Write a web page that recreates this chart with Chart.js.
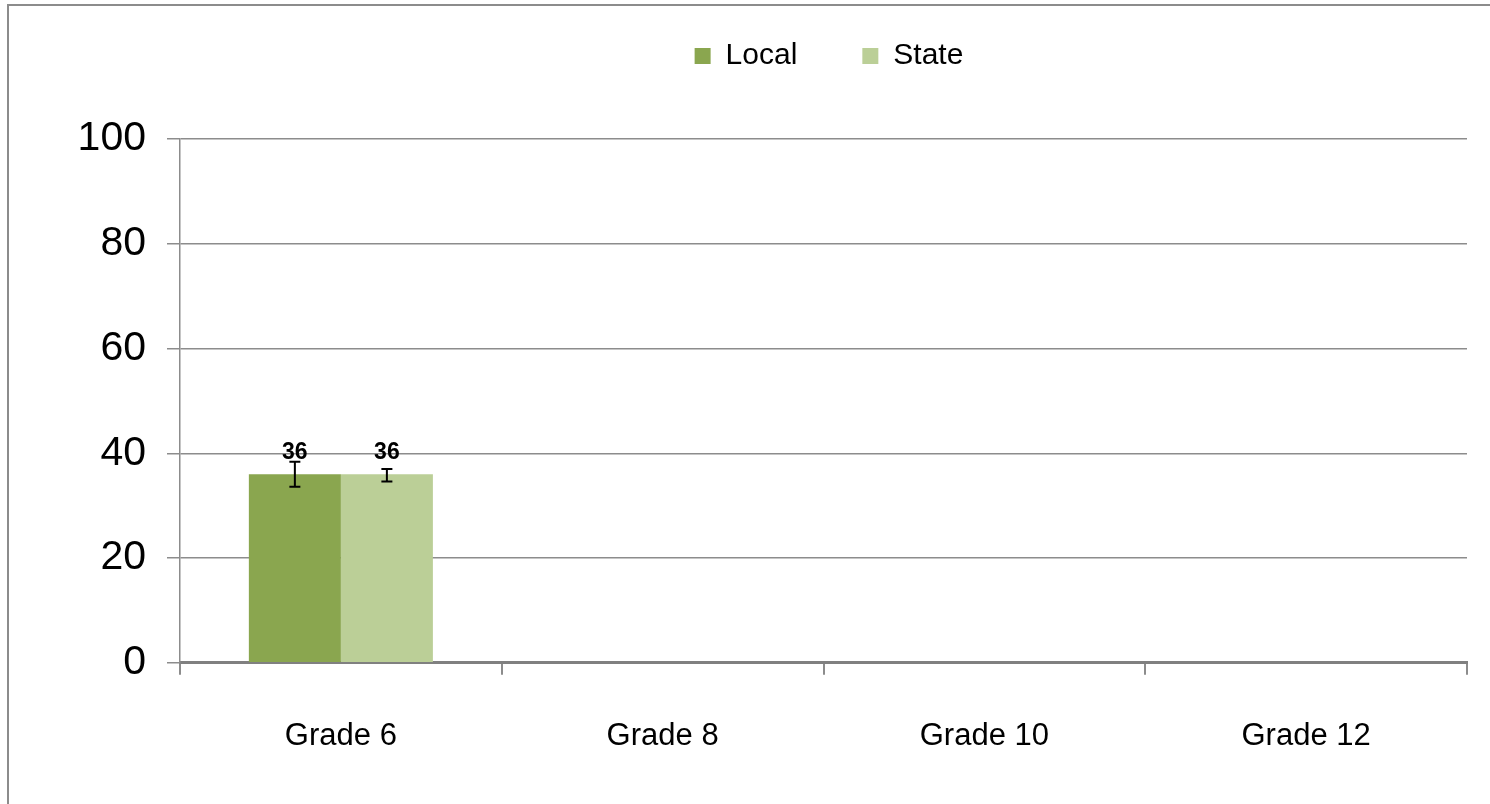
<!DOCTYPE html>
<html>
<head>
<meta charset="utf-8">
<script src="https://cdn.jsdelivr.net/npm/chart.js@4.4.0/dist/chart.umd.min.js"></script>
<style>
  html, body { margin: 0; padding: 0; background: #fff; }
  #wrap { width: 1490px; height: 804px; position: relative; }
</style>
</head>
<body>
<div id="wrap"><canvas id="gradeChart" width="1490" height="804"></canvas></div>
<script>
const categories = ['Grade 6', 'Grade 8', 'Grade 10', 'Grade 12'];
const localValues = [36, null, null, null];
const stateValues = [36, null, null, null];
const localErrLow = [33.6, null, null, null];
const localErrHigh = [38.4, null, null, null];
const stateErrLow = [34.6, null, null, null];
const stateErrHigh = [37.0, null, null, null];
const yTicks = [0, 20, 40, 60, 80, 100];

const errors = [
  { low: localErrLow, high: localErrHigh },
  { low: stateErrLow, high: stateErrHigh }
];

const FONT = '"Liberation Sans", Arial, sans-serif';

// outer frame (only left and top edge are in view)
const framePlugin = {
  id: 'frame',
  beforeDraw(chart) {
    const c = chart.ctx;
    c.save();
    c.strokeStyle = '#8c8c8c';
    c.lineWidth = 2;
    c.beginPath();
    c.moveTo(8, 804);
    c.lineTo(8, 5);
    c.lineTo(1490, 5);
    c.stroke();
    c.restore();
  }
};

// legend sits high above the plot and is centred over the plot area
const legendPlace = {
  id: 'legendPlace',
  afterInit(chart) {
    const lg = chart.legend;
    const fit = lg.fit;
    lg.fit = function () {
      fit.call(this);
      this.height = 139;
    };
  },
  afterLayout(chart) {
    const lg = chart.legend;
    lg.top = -24;
    lg.left = 191;
    lg.right = 1467;
  }
};

// error bars and value labels
const barExtras = {
  id: 'barExtras',
  afterDatasetsDraw(chart) {
    const c = chart.ctx;
    const y = chart.scales.y;
    c.save();
    chart.data.datasets.forEach((ds, i) => {
      const meta = chart.getDatasetMeta(i);
      meta.data.forEach((bar, j) => {
        if (ds.data[j] == null) return;
        const x = bar.x;
        const lo = y.getPixelForValue(errors[i].low[j]);
        const hi = y.getPixelForValue(errors[i].high[j]);
        c.strokeStyle = '#000';
        c.lineWidth = 2;
        c.beginPath();
        c.moveTo(x, lo); c.lineTo(x, hi);
        c.moveTo(x - 5.5, lo); c.lineTo(x + 5.5, lo);
        c.moveTo(x - 5.5, hi); c.lineTo(x + 5.5, hi);
        c.stroke();
        c.fillStyle = '#000';
        c.font = 'bold 23px ' + FONT;
        c.textAlign = 'center';
        c.textBaseline = 'middle';
        c.fillText(String(ds.data[j]), x, y.getPixelForValue(ds.data[j]) - 22);
      });
    });
    c.restore();
  }
};

new Chart(document.getElementById('gradeChart'), {
  type: 'bar',
  data: {
    labels: categories,
    datasets: [
      { label: 'Local', data: localValues, backgroundColor: '#8aa64f', categoryPercentage: 0.572, barPercentage: 1 },
      { label: 'State', data: stateValues, backgroundColor: '#bbcf97', categoryPercentage: 0.572, barPercentage: 1 }
    ]
  },
  options: {
    responsive: false,
    animation: false,
    layout: { padding: { left: 0, right: 23, top: 0, bottom: 6 } },
    plugins: {
      tooltip: { enabled: false },
      legend: {
        position: 'top',
        labels: {
          color: '#000',
          boxWidth: 16,
          boxHeight: 16,
          padding: 65,
          font: { family: FONT, size: 30 }
        }
      }
    },
    scales: {
      x: {
        offset: true,
        grid: { offset: true, drawOnChartArea: false, color: '#8c8c8c', lineWidth: 2, tickLength: 12 },
        border: { color: '#808080', width: 3 },
        ticks: { color: '#000', padding: 43, font: { family: FONT, size: 31 } }
      },
      y: {
        min: 0,
        max: 100,
        afterFit(scale) { scale.width = 180; },
        afterBuildTicks(scale) { scale.ticks = yTicks.map(v => ({ value: v })); },
        grid: { color: '#8c8c8c', lineWidth: 1.5, tickLength: 13 },
        border: { color: '#8c8c8c', width: 1.5 },
        ticks: { color: '#000', padding: 21, font: { family: FONT, size: 41 } }
      }
    }
  },
  plugins: [framePlugin, legendPlace, barExtras]
});
</script>
</body>
</html>
